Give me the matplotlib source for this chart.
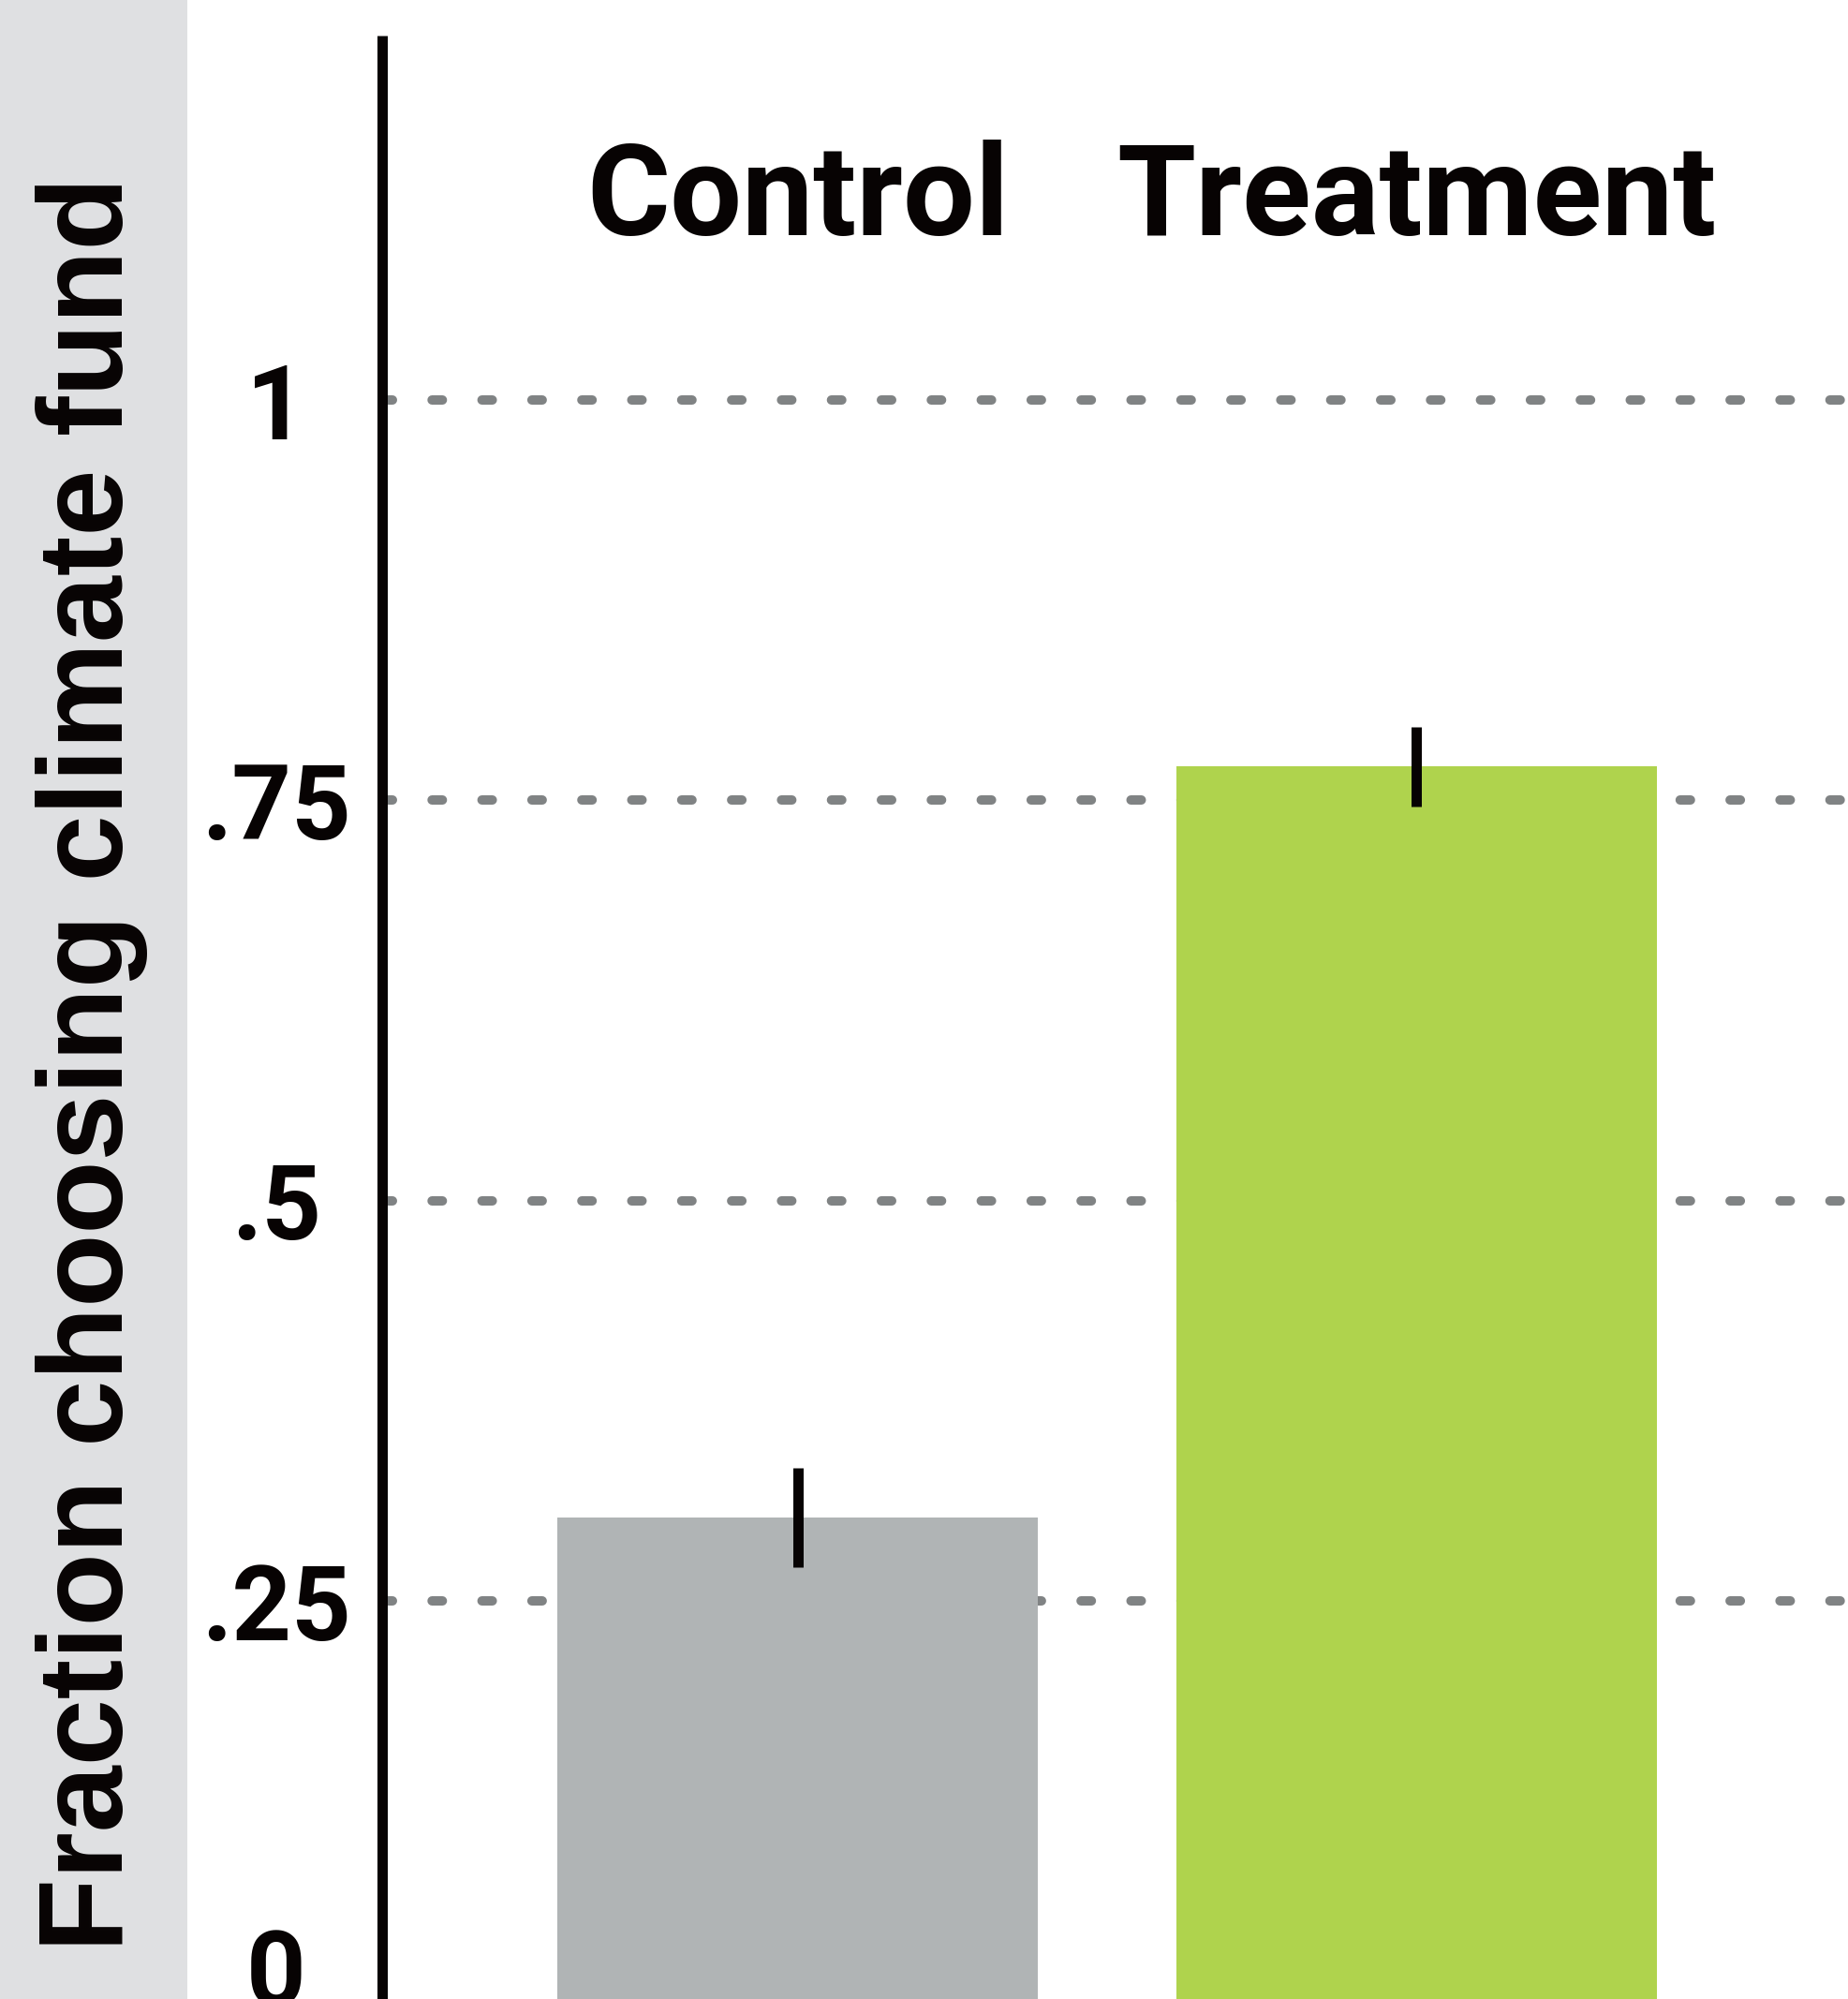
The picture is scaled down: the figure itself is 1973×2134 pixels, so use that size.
import numpy as np
import matplotlib
matplotlib.use("Agg")
import matplotlib.pyplot as plt
import matplotlib.transforms as mtransforms

# data
categories = ["Control", "Treatment"]
fractions = [0.302, 0.771]
errors = [0.031, 0.025]
bar_colors = ["#b0b4b5", "#afd34d"]
ytick_vals = [0, 0.25, 0.5, 0.75, 1]
ytick_labels = ["0", ".25", ".5", ".75", "1"]
ylabel = "Fraction choosing climate fund"

W, H, DPI = 1973, 2134, 100
px = 72 / DPI  # points per pixel

plt.rcParams['font.family'] = ['Roboto', 'DejaVu Sans']
plt.rcParams['lines.scale_dashes'] = False

fig = plt.figure(figsize=(W / DPI, H / DPI), dpi=DPI)
fig.patch.set_facecolor("white")

# grey band on the left
fig.patches.append(plt.Rectangle((0, 0), 200 / W, 1, transform=fig.transFigure,
                                 facecolor="#dfe0e2", edgecolor="none", zorder=0))
fig.text(98 / W, 1 - 1136 / H, ylabel, rotation=90, ha="center", va="center",
         fontsize=92, fontweight="bold", color="#070303",
         family=["Liberation Sans", "DejaVu Sans"])

# axes in pixels: left spine at x=407.5, y=0 at 2136px from top, top at 38px
left, right = 407.5, W
bottom_px, top_px = 2136, 38
ax = fig.add_axes([left / W, (H - bottom_px) / H, (right - left) / W, (bottom_px - top_px) / H])
ax.set_facecolor("none")

x = np.arange(len(categories))
ax.set_xlim(-0.672, 1.697)
ax.set_ylim(0, (bottom_px - top_px) / 1709)

# dashed gridlines
for v in ytick_vals[1:]:
    ax.axhline(v, color="#808384", lw=10 * px, dashes=(11 * px, 42.3 * px),
               dash_capstyle="round", zorder=1)

ax.bar(x, fractions, width=0.776, color=bar_colors, zorder=2)
ax.errorbar(x, fractions, yerr=errors, fmt="none", ecolor="#070303",
            elinewidth=11 * px, capsize=0, zorder=3)

# category labels at top
for xi, lab in zip(x, categories):
    ax.text(xi, 1.103, lab, ha="center", va="baseline", fontsize=98,
            fontweight="bold", color="#070303")

for s in ["top", "right"]:
    ax.spines[s].set_visible(False)
for s in ["left", "bottom"]:
    ax.spines[s].set_linewidth(11 * px)
    ax.spines[s].set_color("#070303")
    ax.spines[s].set_capstyle("butt")
ax.spines["left"].set_zorder(4)

ax.set_xticks([])
ax.set_yticks(ytick_vals)
ax.set_yticklabels(ytick_labels, fontsize=80, fontweight="bold", color="#070303")
ax.tick_params(axis="y", length=0, pad=112.5 * px)
for t in ax.get_yticklabels():
    t.set_ha("center")
# the 0 label sits higher so it is not cut off
zero = ax.get_yticklabels()[0]
zero.set_transform(zero.get_transform() + mtransforms.ScaledTranslation(0, 37 / DPI, fig.dpi_scale_trans))

fig.savefig("out.png", dpi=DPI)
